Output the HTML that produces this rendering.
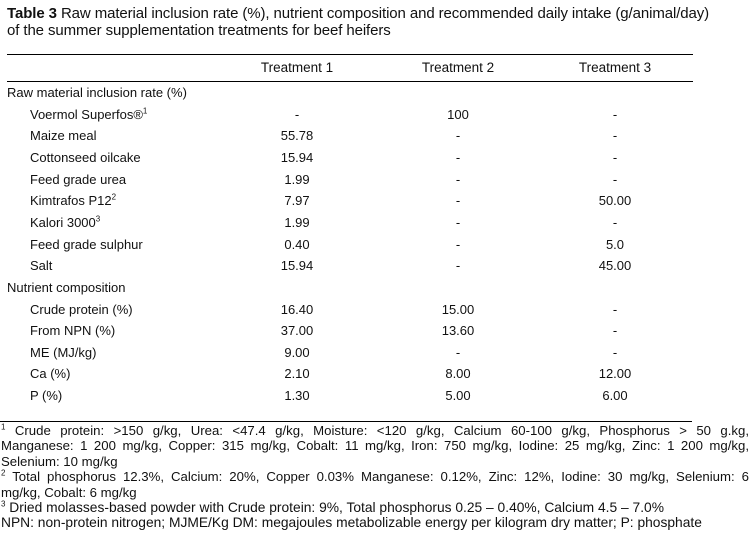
<!DOCTYPE html>
<html><head><meta charset="utf-8"><style>
body{margin:0;width:754px;height:536px;background:#fff;font-family:"Liberation Sans",Arial,sans-serif;color:#111;position:relative;overflow:hidden}
.t{position:absolute;white-space:nowrap;font-size:13px;line-height:16px}
.c{position:absolute;font-size:13px;line-height:16px;width:120px;text-align:center;white-space:nowrap}
.rule{position:absolute;left:7px;width:686px;height:1px;background:#000}
.fn{position:absolute;left:1px;width:748px;font-size:13.2px;line-height:15.4px}
.fn div{white-space:nowrap;height:15.4px;overflow:visible}
.fn .j{text-align:justify;text-align-last:justify;white-space:normal}
.fn .w{font-size:13.8px}
sup{font-size:8px;line-height:0}
</style></head><body>
<div class="t" style="left:7px;top:5px;line-height:17px;font-size:15px;letter-spacing:-0.1px"><b>Table 3</b> Raw material inclusion rate (%), nutrient composition and recommended daily intake (g/animal/day)<br>of the summer supplementation treatments for beef heifers</div>
<div class="rule" style="top:54px"></div>
<div class="c" style="left:237px;top:60px;font-size:13.5px">Treatment 1</div>
<div class="c" style="left:398px;top:60px;font-size:13.5px">Treatment 2</div>
<div class="c" style="left:555px;top:60px;font-size:13.5px">Treatment 3</div>
<div class="rule" style="top:81px"></div>
<div id="rows"></div>
<div class="rule" style="top:421px;left:0;width:692px"></div>
<div class="fn" style="top:423px">
<div class="j"><sup>1</sup> Crude protein: &gt;150 g/kg, Urea: &lt;47.4 g/kg, Moisture: &lt;120 g/kg, Calcium 60-100 g/kg, Phosphorus &gt; 50 g.kg,</div>
<div class="j">Manganese: 1&nbsp;200 mg/kg, Copper: 315 mg/kg, Cobalt: 11 mg/kg, Iron: 750 mg/kg, Iodine: 25 mg/kg, Zinc: 1&nbsp;200 mg/kg,</div>
<div>Selenium: 10 mg/kg</div>
<div class="j"><sup>2</sup> Total phosphorus 12.3%, Calcium: 20%, Copper 0.03% Manganese: 0.12%, Zinc: 12%, Iodine: 30 mg/kg, Selenium: 6</div>
<div>mg/kg, Cobalt: 6 mg/kg</div>
<div class="w"><sup>3</sup> Dried molasses-based powder with Crude protein: 9%, Total phosphorus 0.25 – 0.40%, Calcium 4.5 – 7.0%</div>
<div class="w">NPN: non-protein nitrogen; MJME/Kg DM: megajoules metabolizable energy per kilogram dry matter; P: phosphate</div>
</div>
<script>
const labels=["Raw material inclusion rate (%)","Voermol Superfos®<sup>1</sup>","Maize meal","Cottonseed oilcake","Feed grade urea","Kimtrafos P12<sup>2</sup>","Kalori 3000<sup>3</sup>","Feed grade sulphur","Salt","Nutrient composition","Crude protein (%)","From NPN (%)","ME (MJ/kg)","Ca (%)","P (%)"];
const indent=[0,1,1,1,1,1,1,1,1,0,1,1,1,1,1];
const t1=["","-","55.78","15.94","1.99","7.97","1.99","0.40","15.94","","16.40","37.00","9.00","2.10","1.30"];
const t2=["","100","-","-","-","-","-","-","-","","15.00","13.60","-","8.00","5.00"];
const t3=["","-","-","-","-","50.00","-","5.0","45.00","","-","-","-","12.00","6.00"];
const wrap=document.getElementById('rows');
labels.forEach((l,i)=>{
  const y=85+i*21.65;
  const d=document.createElement('div');
  d.className='t';d.style.left=(indent[i]?30:7)+'px';d.style.top=y+'px';d.innerHTML=l;
  
  
  wrap.appendChild(d);
  [[t1,237],[t2,398],[t3,555]].forEach(([arr,x])=>{
    if(!arr[i])return;
    const c=document.createElement('div');
    c.className='c';c.style.left=x+'px';c.style.top=y+'px';c.textContent=arr[i];
    
    
    wrap.appendChild(c);
  });
});
</script>
</body></html>
